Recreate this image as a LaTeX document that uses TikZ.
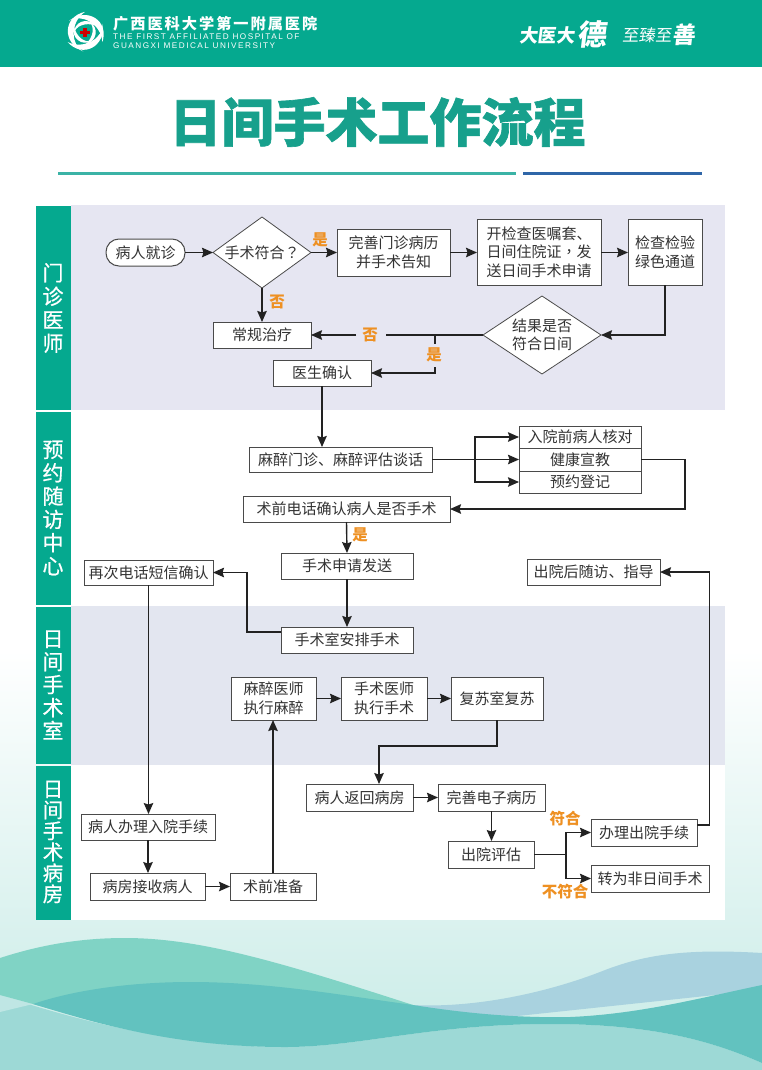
\documentclass[tikz,border=0pt]{standalone}
\usepackage{fontspec}
\setmainfont{Noto Sans CJK SC}
\newfontfamily\titlefont[BoldFeatures={FakeBold=1.2}]{Noto Sans CJK SC}
\newfontfamily\sloganfont[FakeSlant=0.12]{Noto Sans CJK SC}
\newfontfamily\engfont[LetterSpace=18]{Liberation Sans}
\newfontfamily\tcfont{Noto Sans CJK TC}
\newfontfamily\sidefont[FakeBold=0.6]{Noto Sans CJK SC}
\usetikzlibrary{arrows.meta,shapes.geometric}
\definecolor{band}{HTML}{05A98F}
\definecolor{panel}{HTML}{E6E6F2}
\definecolor{panelb}{HTML}{E3E6F0}
\definecolor{txt}{HTML}{333333}
\definecolor{lin}{HTML}{222222}
\definecolor{edge}{HTML}{4A4A4A}
\definecolor{yes}{HTML}{EE9022}
\definecolor{titlec}{HTML}{17A08C}
\definecolor{rulea}{HTML}{3BB3A6}
\definecolor{ruleb}{HTML}{2F66A8}
\definecolor{waveA}{HTML}{80D3C5}
\definecolor{waveB}{HTML}{A9D2DF}
\definecolor{waveC}{HTML}{62C2BF}
\definecolor{waveD}{HTML}{9DD9D6}
\definecolor{bgend}{HTML}{D0EEEA}
\tikzset{
  flowbox/.style={draw=edge,line width=1pt,fill=white,text=txt,inner sep=0pt,outer sep=0pt,align=center,
    font=\fontsize{15}{18.5}\selectfont},
  pill/.style={flowbox,rounded corners=13pt},
  decision/.style={flowbox,diamond,line width=.8pt},
  yn/.style={text=yes,inner sep=0pt,font=\fontsize{15.5}{17}\selectfont\bfseries},
  side/.style={text=white,inner sep=0pt,align=center},
  hd/.style={text=white,anchor=west,inner sep=0pt},
  conn/.style={draw=lin,line width=1.4pt},
  arrowed/.style={conn,-{Stealth[length=11pt,width=9.5pt,inset=1.5pt]}},
}
% name, x1, y1, x2, y2, text
\newcommand\rbox[6]{\node[flowbox,minimum width={(#4-#2)*1pt},minimum height={(#5-#3)*1pt}] (#1) at ({(#2+#4)/2},{(#3+#5)/2}) {#6};}
\begin{document}
\begin{tikzpicture}[x=1pt,y=-1pt]
\useasboundingbox (0,0) rectangle (762,1070);
% background
\fill[white] (0,0) rectangle (762,650);
\shade[top color=white,bottom color=bgend] (0,650) rectangle (762,1000);
\fill[bgend] (0,1000) rectangle (762,1070);
% waves
\fill[waveD] (0,995) .. controls (60,1015) and (170,1047) .. (285,1047) .. controls (360,1047) and (430,1024) .. (550,1024) .. controls (650,1024) and (710,1040) .. (762,1063) -- (762,1070) -- (0,1070) -- cycle;
\fill[waveD!65!white] (0,995) -- (33,1004) -- (0,1012) -- cycle;
\fill[waveA] (0,958) .. controls (40,945) and (80,938) .. (125,938) .. controls (200,938) and (280,962) .. (413,1005) -- (380,1020) -- (100,1023) -- (33,1004) -- (0,995) -- cycle;
\fill[waveB] (413,1005) .. controls (470,1008) and (540,995) .. (600,972) .. controls (640,956) and (680,948) .. (762,953) -- (762,990) -- (480,1020) -- cycle;
\fill[waveC] (33,1004) .. controls (80,988) and (140,982) .. (190,982) .. controls (270,982) and (340,995) .. (413,1005) .. controls (470,1014) and (520,1018) .. (570,1017) .. controls (640,1014) and (700,998) .. (762,985) -- (762,1063) .. controls (710,1040) and (650,1024) .. (550,1024) .. controls (430,1024) and (360,1047) .. (285,1047) .. controls (170,1047) and (90,1021) .. (33,1004) -- cycle;
% header
\fill[band] (0,0) rectangle (762,67);
% logo
\begin{scope}[shift={(85,32)},scale=1.22]
\foreach \r in {0,120,240}{
  \fill[white,rotate=\r] (150:16.5) .. controls (95:22) and (35:21) .. (-25:16) .. controls (15:16) and (90:15) .. (150:16.5) -- cycle;
  \fill[white,rotate=\r+60] (150:10.5) .. controls (95:13) and (40:12) .. (-5:9) .. controls (30:9) and (90:8.5) .. (150:10.5) -- cycle;
}
\fill[red!80!black] (-1.4,-3.5) rectangle (1.4,4.5);
\fill[red!80!black] (-4,-1) rectangle (4,1.8);
\end{scope}
\node[hd,font=\fontsize{15.2}{17}\selectfont\bfseries\addfontfeature{LetterSpace=13}] (hname) at (113,24) {广西医科大学第一附属医院};
\node[hd,font=\fontsize{8.2}{9}\selectfont\engfont] (heng1) at (113,36.5) {THE FIRST AFFILIATED HOSPITAL OF};
\node[hd,font=\fontsize{8.2}{9}\selectfont\engfont] (heng2) at (113,45.5) {GUANGXI MEDICAL UNIVERSITY};
\node[hd,font=\fontsize{18.5}{20}\selectfont\sloganfont\bfseries] (sa) at (519,35) {大医大};
\node[hd,font=\fontsize{29}{30}\selectfont\sloganfont\bfseries] (sb) at (577,34) {德};
\node[hd,font=\fontsize{16.5}{18}\selectfont\sloganfont] (sc) at (622,35) {至臻至};
\node[hd,font=\fontsize{23}{24}\selectfont\sloganfont\bfseries] (sd) at (672,35) {善};
% title
\node[text=titlec,inner sep=0pt,font=\fontsize{52}{56}\selectfont\titlefont\bfseries] (title) at (377.5,122) {日间手术工作流程};
\fill[rulea] (58,172) rectangle (516,175);
\fill[ruleb] (523,172) rectangle (702,175);
% panels
\fill[white] (71,411) rectangle (725,920);
\fill[panel] (71,205) rectangle (725,410);
\fill[panelb] (71,606) rectangle (725,765);
\fill[band] (36,206) rectangle (71,410);
\fill[band] (36,412) rectangle (71,605);
\fill[band] (36,607) rectangle (71,764);
\fill[band] (36,766) rectangle (71,920);
\node[side,font=\fontsize{21}{23.5}\selectfont\sidefont] (s1) at (53,308) {门\\诊\\医\\师};
\node[side,font=\fontsize{21}{23.3}\selectfont\sidefont] (s2) at (53,508) {预\\约\\随\\访\\中\\心};
\node[side,font=\fontsize{21}{23}\selectfont\sidefont] (s3) at (53,685) {日\\间\\手\\术\\室};
\node[side,font=\fontsize{20.5}{21}\selectfont\sidefont] (s4) at (53,842) {日\\间\\手\\术\\病\\房};
% nodes
\node[pill,minimum width=79pt,minimum height=27pt] (visit) at (145.5,252.5) {病人就诊};
\node[decision,shape aspect=1.38,minimum width=98pt,minimum height=71pt] (ok) at (262,252.5) {手术符合{\tcfont ？}};
\rbox{rec}{337}{229}{450}{276}{完善门诊病历\\并手术告知}
\rbox{order}{477}{219}{601}{285}{开检查医嘱套、\\日间住院证{\tcfont ，}发\\送日间手术申请}
\rbox{green}{628}{219}{702}{285}{检查检验\\绿色通道}
\node[decision,shape aspect=1.5,minimum width=118pt,minimum height=78pt] (res) at (542,335) {结果是否\\符合日间};
\rbox{normal}{213}{322}{311}{348}{常规治疗}
\rbox{doc}{273}{360}{371}{386}{医生确认}
\rbox{mz}{249}{447}{432}{472}{麻醉门诊、麻醉评估谈话}
\rbox{ru}{519}{426}{641}{448}{入院前病人核对}
\rbox{hea}{519}{448}{641}{471}{健康宣教}
\rbox{yy}{519}{471}{641}{493}{预约登记}
\rbox{phone}{243}{496}{450}{522}{术前电话确认病人是否手术}
\rbox{send}{281}{553}{413}{579}{手术申请发送}
\rbox{zc}{84}{560}{213}{585}{再次电话短信确认}
\rbox{fu}{527}{559}{660}{585}{出院后随访、指导}
\rbox{arr}{281}{627}{413}{653}{手术室安排手术}
\rbox{ma}{231}{677}{316}{720}{麻醉医师\\执行麻醉}
\rbox{op}{341}{677}{427}{720}{手术医师\\执行手术}
\rbox{fs}{451}{677}{543}{720}{复苏室复苏}
\rbox{back}{306}{784}{413}{811}{病人返回病房}
\rbox{emr}{438}{784}{545}{811}{完善电子病历}
\rbox{adm}{81}{814}{215}{840}{病人办理入院手续}
\rbox{ban}{591}{819}{697}{846}{办理出院手续}
\rbox{out}{448}{841}{534}{868}{出院评估}
\rbox{fei}{591}{865}{709}{892}{转为非日间手术}
\rbox{ward}{90}{873}{205}{900}{病房接收病人}
\rbox{pre}{230}{873}{316}{900}{术前准备}
% labels
\node[yn] (y1) at (320,240) {是};
\node[yn] (n1) at (277,302) {否};
\node[yn] (n2) at (370,335) {否};
\node[yn] (y2) at (434,355) {是};
\node[yn] (y3) at (360,535) {是};
\node[yn] (y4) at (565,819) {符合};
\node[yn] (n3) at (565,892) {不符合};
% free ends
\coordinate (g1) at (386,335);
\coordinate (g2) at (356,335);
\coordinate (b1) at (435,335);
\coordinate (b2) at (435,344);
\coordinate (b3) at (435,367);
\coordinate (j) at (475,459.5);
\coordinate (k1) at (685,459.5);
\coordinate (s1a) at (281,632);
\coordinate (s2a) at (247,632);
\coordinate (t1) at (379,746);
\coordinate (j2) at (566,854.5);
\coordinate (m1) at (697,825);
\coordinate (m2) at (709.5,825);
\coordinate (c1) at (665,285);
% connectors
\draw[arrowed] (visit.east) -- (ok.west);
\draw[arrowed] (ok.east) -- (ok.east -| rec.west);
\draw[arrowed] (rec.east |- ok.east) -- (ok.east -| order.west);
\draw[arrowed] (order.east |- ok.east) -- (ok.east -| green.west);
\draw[arrowed] (c1) |- (res.east);
\draw[arrowed] (ok.south) -- (normal.north);
\draw[conn] (res.west) -- (g1);
\draw[arrowed] (g2) -- (normal.east);
\draw[conn] (b1) -- (b2);
\draw[arrowed] (b3) |- (doc.east);
\draw[arrowed] (doc.south) -- (doc.south |- mz.north);
\draw[arrowed] (mz.east) -- (hea.west);
\draw[arrowed] (j) |- (ru.west);
\draw[arrowed] (j) |- (yy.west);
\draw[arrowed] (hea.east) -- (k1) |- (phone.east);
\draw[arrowed] (phone.south) -- (send.north);
\draw[arrowed] (send.south) -- (arr.north);
\draw[arrowed] (s1a) -- (s2a) |- (zc.east);
\draw[arrowed] (zc.south) -- (zc.south |- adm.north);
\draw[arrowed] (adm.south) -- (adm.south |- ward.north);
\draw[arrowed] (ward.east) -- (pre.west);
\draw[arrowed] (pre.north) -- (pre.north |- ma.south);
\draw[arrowed] (ma.east) -- (op.west);
\draw[arrowed] (op.east) -- (fs.west);
\draw[arrowed] (fs.south) |- (t1) -- (t1 |- back.north);
\draw[arrowed] (back.east) -- (emr.west);
\draw[arrowed] (emr.south) -- (emr.south |- out.north);
\draw[conn] (out.east) -- (j2);
\draw[arrowed] (j2) |- (ban.west);
\draw[arrowed] (j2) |- (fei.west);
\draw[arrowed] (m1) -- (m2) |- (fu.east);
\end{tikzpicture}
\end{document}
